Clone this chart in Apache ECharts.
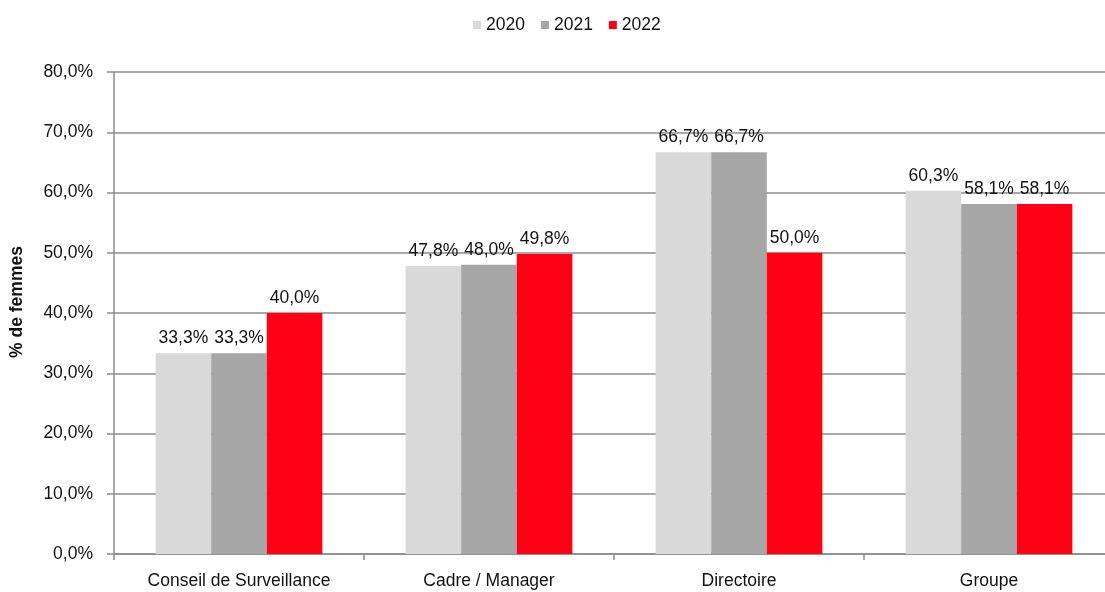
<!DOCTYPE html>
<html>
<head>
<meta charset="utf-8">
<script src="https://cdn.jsdelivr.net/npm/echarts@6/dist/echarts.min.js"></script>
<style>
  html, body { margin: 0; padding: 0; background: #fff; overflow: hidden; }
  #chart { width: 1120px; height: 592px; }
</style>
</head>
<body>
<div id="chart"></div>
<script>
// Share of women per body, by year (percent)
const categories = ['Conseil de Surveillance', 'Cadre / Manager', 'Directoire', 'Groupe'];
const years = ['2020', '2021', '2022'];
const values2020 = [33.3, 47.8, 66.7, 60.3];
const values2021 = [33.3, 48.0, 66.7, 58.1];
const values2022 = [40.0, 49.8, 50.0, 58.1];
const yTicks = { min: 0, max: 80, interval: 10 };
const yAxisTitle = '% de femmes';

const FONT = "'Liberation Sans', Arial, sans-serif";
const FS = 17.5;
const colors = ['#d9d9d9', '#a6a6a6', '#ff0015'];
const gridGray = '#8c8c8c';
const textColor = '#111';

const fmt = v => v.toFixed(1).replace('.', ',') + '%';

const seriesValues = [values2020, values2021, values2022];

const chart = echarts.init(document.getElementById('chart'), null, { renderer: 'canvas' });
chart.setOption({
  animation: false,
  textStyle: { fontFamily: FONT },
  color: colors,
  legend: {
    top: 11,
    left: 468,
    itemWidth: 8,
    itemHeight: 8,
    itemGap: 16,
    icon: 'rect',
    textStyle: { fontFamily: FONT, fontSize: FS, color: textColor },
    data: years
  },
  grid: { left: 114, top: 72, right: 6, bottom: 38, containLabel: false },
  xAxis: {
    type: 'category',
    data: categories,
    boundaryGap: true,
    axisLine: { lineStyle: { color: gridGray, width: 1.5 } },
    axisTick: { show: true, length: 6, interval: 0, lineStyle: { color: gridGray, width: 1.5 } },
    axisLabel: { interval: 0, margin: 18, fontFamily: FONT, fontSize: FS, color: textColor }
  },
  yAxis: {
    type: 'value',
    min: yTicks.min,
    max: yTicks.max,
    interval: yTicks.interval,
    name: yAxisTitle,
    nameLocation: 'middle',
    nameGap: 88,
    nameTextStyle: { fontFamily: FONT, fontSize: FS, fontWeight: 'bold', color: textColor, padding: [0, 0, 0, 22] },
    axisLine: { show: true, lineStyle: { color: gridGray, width: 1.5 } },
    axisTick: { show: true, length: 7, lineStyle: { color: gridGray, width: 1.5 } },
    axisLabel: { margin: 21, fontFamily: FONT, fontSize: FS, color: textColor, formatter: fmt },
    splitLine: { show: true, lineStyle: { color: gridGray, width: 1.5 } }
  },
  series: years.map((y, i) => ({
    name: y,
    type: 'bar',
    data: seriesValues[i],
    barGap: '0%',
    barCategoryGap: '33.3%',
    itemStyle: { color: colors[i] },
    label: {
      show: true,
      position: 'top',
      distance: 6,
      fontFamily: FONT,
      fontSize: FS,
      color: textColor,
      formatter: p => fmt(p.value)
    }
  }))
});
</script>
</body>
</html>
